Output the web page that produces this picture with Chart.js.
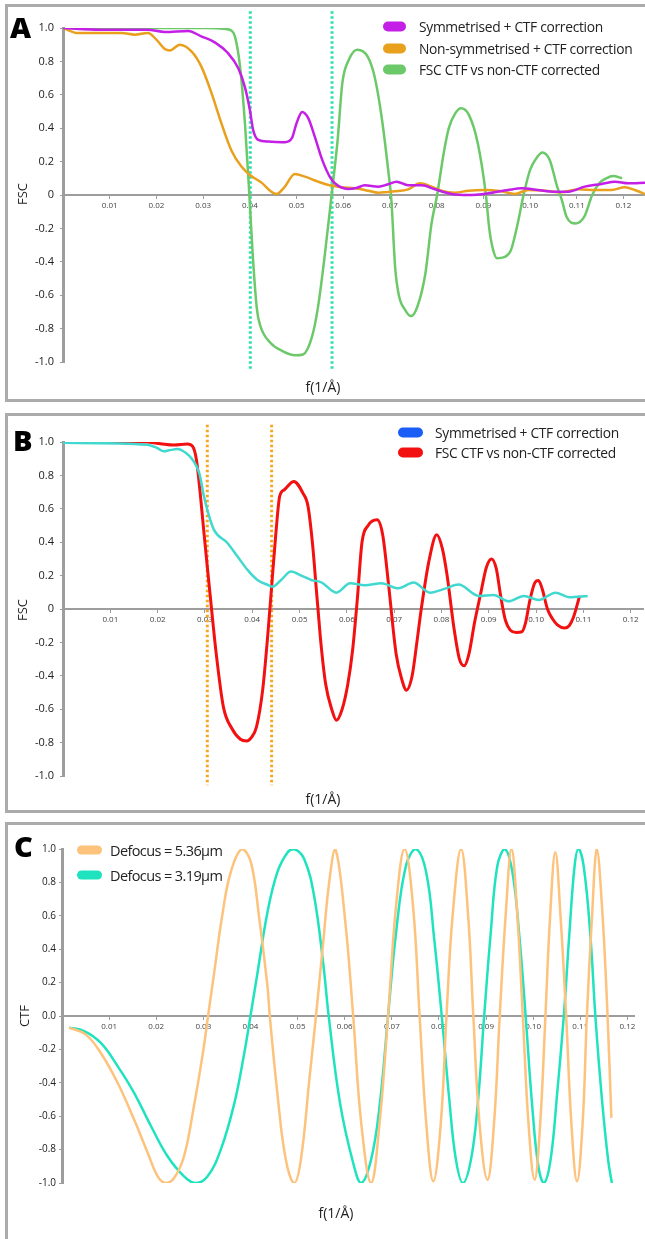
<!DOCTYPE html>
<html>
<head>
<meta charset="utf-8">
<title>FSC and CTF curves</title>
<script src="https://cdn.jsdelivr.net/npm/chart.js@4.4.1/dist/chart.umd.min.js"></script>
<style>
  body { margin: 0; width: 645px; height: 1239px; overflow: hidden; background: #fff; position: relative; font-family: "Open Sans", sans-serif; color: #222; }
  .panel { position: absolute; left: 5px; width: 700px; border: 3px solid #ababab; box-sizing: border-box; }
  canvas { position: absolute; left: 0; }
  .letter { position: absolute; font-weight: 800; font-size: 29px; line-height: 1; color: #000; }
  .ytitle { position: absolute; font-size: 13px; line-height: 1; transform: translate(-50%, -50%) rotate(-90deg); white-space: nowrap; }
  .xtitle { position: absolute; font-size: 14px; line-height: 1; transform: translate(-50%, -50%); white-space: nowrap; }
  .legend { position: absolute; left: 0; top: 0; }
  .legend .row { position: absolute; display: flex; align-items: center; white-space: nowrap; transform: translateY(-50%); }
  .legend .sw { display: inline-block; border-radius: 5px; }
</style>
</head>
<body>
<div class="panel" style="top:4px;height:398px"></div>
<div class="panel" style="top:413px;height:400px"></div>
<div class="panel" style="top:822px;height:430px"></div>

<canvas id="chartA" width="645" height="400" style="top:0px"></canvas>
<canvas id="chartB" width="645" height="400" style="top:410px"></canvas>
<canvas id="chartC" width="645" height="419" style="top:820px"></canvas>

<div class="letter" style="left:10px;top:12px">A</div>
<div class="letter" style="left:13px;top:425px">B</div>
<div class="letter" style="left:14px;top:831px">C</div>

<div class="ytitle" style="left:22px;top:194px">FSC</div>
<div class="ytitle" style="left:22px;top:610px">FSC</div>
<div class="ytitle" style="left:24px;top:1016px">CTF</div>

<div class="xtitle" style="left:323px;top:387px">f(1/Å)</div>
<div class="xtitle" style="left:323px;top:799px">f(1/Å)</div>
<div class="xtitle" style="left:336px;top:1213px">f(1/Å)</div>

<div id="legendA" class="legend"></div>
<div id="legendB" class="legend"></div>
<div id="legendC" class="legend"></div>

<script>
// ---- data: [f (1/Å), value] ----

// panel A
const aSymmetrised = [[0,1.0],[0.008,0.99],[0.018,0.99],[0.0218,0.976],[0.0268,0.982],[0.0296,0.95],[0.0325,0.914],[0.0353,0.85],[0.0375,0.76],[0.0389,0.65],[0.04,0.51],[0.0407,0.39],[0.0418,0.33],[0.0439,0.32],[0.0475,0.316],[0.049,0.34],[0.05,0.43],[0.0512,0.497],[0.0525,0.46],[0.0539,0.35],[0.0555,0.21],[0.0571,0.11],[0.0582,0.07],[0.061,0.036],[0.0628,0.042],[0.0646,0.058],[0.0675,0.05],[0.0696,0.064],[0.0714,0.08],[0.0739,0.058],[0.0768,0.058],[0.0796,0.034],[0.0832,0.006],[0.0868,0.0],[0.091,0.01],[0.0953,0.03],[0.0982,0.04],[0.1017,0.03],[0.1053,0.02],[0.1082,0.02],[0.1117,0.05],[0.1153,0.066],[0.1182,0.08],[0.121,0.07],[0.1246,0.074]];
const aNonSymmetrised = [[0,1.0],[0.0032,0.97],[0.0068,0.97],[0.0125,0.97],[0.0154,0.96],[0.0182,0.97],[0.02,0.93],[0.0218,0.874],[0.0229,0.866],[0.025,0.9],[0.0275,0.86],[0.0296,0.77],[0.0318,0.61],[0.0339,0.43],[0.036,0.27],[0.0382,0.17],[0.04,0.12],[0.0425,0.074],[0.0446,0.02],[0.0457,0.006],[0.0475,0.05],[0.0496,0.126],[0.0518,0.11],[0.0546,0.08],[0.0571,0.058],[0.0596,0.046],[0.0625,0.04],[0.0653,0.026],[0.0675,0.014],[0.071,0.022],[0.0739,0.034],[0.0764,0.07],[0.0789,0.05],[0.081,0.026],[0.0839,0.014],[0.0868,0.026],[0.0903,0.03],[0.0939,0.022],[0.0967,0.006],[0.0996,0.03],[0.1032,0.026],[0.1067,0.016],[0.1103,0.034],[0.1139,0.03],[0.1174,0.03],[0.1203,0.046],[0.1224,0.03],[0.1246,0.006]];
const aCtfVsNon = [[0,1.0],[0.02,1.0],[0.031,1.0],[0.0345,0.995],[0.036,0.985],[0.0368,0.95],[0.0379,0.77],[0.039,0.41],[0.0399,0.0],[0.0406,-0.35],[0.0415,-0.68],[0.0422,-0.78],[0.0444,-0.885],[0.047,-0.935],[0.0497,-0.96],[0.0514,-0.955],[0.0533,-0.85],[0.0546,-0.67],[0.056,-0.37],[0.0575,0.0],[0.0588,0.33],[0.0598,0.67],[0.0612,0.81],[0.063,0.87],[0.0652,0.83],[0.0667,0.71],[0.0682,0.47],[0.0697,0.13],[0.0703,-0.03],[0.0711,-0.43],[0.0719,-0.6],[0.0732,-0.686],[0.0745,-0.725],[0.0759,-0.666],[0.0776,-0.467],[0.0789,-0.17],[0.0801,0.0],[0.0815,0.25],[0.0826,0.4],[0.084,0.49],[0.0852,0.52],[0.0869,0.48],[0.0888,0.31],[0.0905,0.01],[0.0913,-0.21],[0.0921,-0.33],[0.0929,-0.378],[0.0946,-0.37],[0.0959,-0.33],[0.0972,-0.19],[0.0986,0.0],[0.1,0.15],[0.1016,0.23],[0.1026,0.255],[0.1042,0.21],[0.1058,0.05],[0.1068,-0.03],[0.1078,-0.13],[0.1098,-0.17],[0.1116,-0.13],[0.1133,0.0],[0.1148,0.07],[0.1163,0.1],[0.1178,0.114],[0.1197,0.1]];
const aMarkers = [0.0401, 0.0576];

// panel B
const bSymmetrised = [[0,0.995],[0.0178,0.984],[0.0199,0.964],[0.0213,0.944],[0.0224,0.95],[0.0242,0.958],[0.026,0.934],[0.0274,0.894],[0.0288,0.814],[0.0298,0.674],[0.0309,0.554],[0.0319,0.474],[0.0348,0.394],[0.0369,0.314],[0.039,0.234],[0.0411,0.174],[0.0433,0.144],[0.0443,0.134],[0.0461,0.174],[0.0482,0.224],[0.0504,0.2],[0.0525,0.174],[0.0546,0.16],[0.0578,0.098],[0.0607,0.154],[0.0638,0.142],[0.0673,0.154],[0.0709,0.124],[0.0741,0.158],[0.0776,0.098],[0.0808,0.122],[0.0836,0.146],[0.0879,0.078],[0.091,0.084],[0.0942,0.046],[0.0974,0.078],[0.1006,0.054],[0.1041,0.098],[0.107,0.07],[0.1109,0.078]];
const bCtfVsNon = [[0,1.0],[0.0175,1.0],[0.0206,0.99],[0.0235,0.982],[0.0263,0.988],[0.0274,0.974],[0.0282,0.894],[0.029,0.694],[0.0298,0.454],[0.0305,0.254],[0.0314,0.0],[0.0323,-0.246],[0.0339,-0.586],[0.0357,-0.716],[0.0375,-0.78],[0.0388,-0.79],[0.0398,-0.77],[0.0409,-0.706],[0.0422,-0.486],[0.0433,-0.15],[0.0441,0.134],[0.045,0.454],[0.0458,0.674],[0.0468,0.714],[0.0488,0.764],[0.0507,0.694],[0.0518,0.614],[0.0528,0.374],[0.0535,0.134],[0.0539,0.0],[0.0545,-0.2],[0.0555,-0.446],[0.0568,-0.6],[0.0578,-0.666],[0.059,-0.6],[0.0602,-0.45],[0.0612,-0.25],[0.0622,0.054],[0.0632,0.4],[0.0645,0.5],[0.0664,0.534],[0.0676,0.44],[0.0688,0.15],[0.0704,-0.266],[0.0716,-0.42],[0.0726,-0.486],[0.0738,-0.4],[0.0748,-0.2],[0.0757,-0.006],[0.0774,0.294],[0.079,0.444],[0.0802,0.36],[0.0812,0.2],[0.0826,-0.106],[0.0838,-0.3],[0.0848,-0.34],[0.0858,-0.27],[0.087,-0.08],[0.0883,0.094],[0.0895,0.25],[0.0906,0.3],[0.0916,0.24],[0.0925,0.08],[0.0935,-0.066],[0.0945,-0.125],[0.0958,-0.14],[0.097,-0.136],[0.0978,-0.08],[0.0987,0.054],[0.0998,0.16],[0.1005,0.17],[0.1013,0.12],[0.1024,0.0],[0.1035,-0.06],[0.1045,-0.095],[0.1060,-0.114],[0.107,-0.1],[0.1079,-0.05],[0.1092,0.078]];
const bMarkers = [0.0305, 0.0441];

// panel C
const cDefocus536 = [[0.0015,-0.07],[0.005,-0.11],[0.0082,-0.22],[0.0118,-0.4],[0.0153,-0.62],[0.0182,-0.82],[0.0203,-0.96],[0.022,-1.0],[0.0238,-0.97],[0.0259,-0.84],[0.028,-0.54],[0.0298,-0.24],[0.031,0],[0.0323,0.26],[0.034,0.6],[0.0358,0.86],[0.0382,1.0],[0.0401,0.92],[0.0418,0.6],[0.0436,0.18],[0.0441,0],[0.0457,-0.46],[0.0475,-0.86],[0.0493,-1.0],[0.0507,-0.86],[0.0525,-0.38],[0.0539,0],[0.0553,0.4],[0.0567,0.8],[0.058,1.0],[0.06,0.6],[0.0618,0],[0.0635,-0.64],[0.0656,-1.0],[0.0674,-0.64],[0.0692,0],[0.0709,0.66],[0.0727,1.0],[0.0745,0.66],[0.0759,0],[0.0773,-0.64],[0.0788,-0.99],[0.0804,-0.64],[0.0816,0],[0.0829,0.6],[0.0847,1.0],[0.0862,0.6],[0.0873,0],[0.0886,-0.64],[0.0903,-0.98],[0.0917,-0.64],[0.0929,0],[0.0942,0.62],[0.0954,1.0],[0.0966,0.62],[0.0978,0],[0.099,-0.64],[0.1003,-0.98],[0.1015,-0.64],[0.1026,0],[0.1036,0.6],[0.1047,0.98],[0.1058,0.6],[0.107,0],[0.1081,-0.64],[0.1093,-0.99],[0.1105,-0.64],[0.1114,0],[0.1125,0.6],[0.1135,1.0],[0.1146,0.66],[0.1157,0.06],[0.1166,-0.61]];
const cDefocus319 = [[0.0015,-0.07],[0.0047,-0.09],[0.0082,-0.16],[0.0118,-0.3],[0.0153,-0.46],[0.0189,-0.66],[0.0224,-0.84],[0.0259,-0.96],[0.0284,-1.0],[0.0309,-0.96],[0.0337,-0.8],[0.0366,-0.52],[0.0387,-0.22],[0.04,0],[0.0415,0.26],[0.0436,0.62],[0.0457,0.86],[0.0479,0.98],[0.0493,1.0],[0.0514,0.94],[0.0535,0.72],[0.0555,0.3],[0.0566,0],[0.059,-0.52],[0.0618,-0.88],[0.0635,-1.0],[0.0656,-0.86],[0.0674,-0.54],[0.0692,0],[0.0709,0.5],[0.073,0.9],[0.0751,1.0],[0.0773,0.86],[0.079,0.46],[0.0806,0],[0.0822,-0.5],[0.0836,-0.86],[0.0851,-1.0],[0.0868,-0.86],[0.0882,-0.54],[0.0896,0],[0.091,0.5],[0.0924,0.9],[0.094,1.0],[0.0956,0.86],[0.097,0.5],[0.0984,0],[0.0998,-0.54],[0.1011,-0.9],[0.1023,-1.0],[0.1037,-0.86],[0.1051,-0.46],[0.1065,0],[0.1077,0.5],[0.1088,0.9],[0.1096,1.0],[0.1107,0.9],[0.1121,0.5],[0.1132,0],[0.1146,-0.5],[0.1159,-0.86],[0.1167,-1.0]];

// axes and legends
const xTickValues = [0.01, 0.02, 0.03, 0.04, 0.05, 0.06, 0.07, 0.08, 0.09, 0.10, 0.11, 0.12];
const yTickValues = [-1.0, -0.8, -0.6, -0.4, -0.2, 0, 0.2, 0.4, 0.6, 0.8, 1.0];
const legendALabels = ["Symmetrised + CTF correction", "Non-symmetrised + CTF correction", "FSC CTF vs non-CTF corrected"];
const legendBLabels = ["Symmetrised + CTF correction", "FSC CTF vs non-CTF corrected"];
const legendCLabels = ["Defocus = 5.36µm", "Defocus = 3.19µm"];

const purple = "#c41fe6";
const amber = "#e9a01c";
const green = "#6cc96a";
const mint = "#2fdfae";
const red = "#f21010";
const cyan = "#40d8cf";
const blue = "#1a5ef5";
const dotOrange = "#f5a623";
const peach = "#fdc27c";
const teal = "#1fe3bf";
const axisGrey = "#9d9d9d";

function byId(id) {
  return document.getElementById(id);
}

function curve(points, color, width, smooth) {
  const ds = {
    data: points.map((p) => ({ x: p[0], y: p[1] })),
    borderColor: color,
    borderWidth: width,
    pointRadius: 0,
    fill: false,
    order: 1,
  };
  // sine-like CTF curves read better with plain bezier tension
  if (smooth) {
    ds.tension = 0.4;
  } else {
    ds.cubicInterpolationMode = "monotone";
  }
  return ds;
}

function marker(x, top, bottom, color) {
  return {
    data: [{ x, y: top }, { x, y: bottom }],
    borderColor: color,
    borderWidth: 3,
    borderDash: [2.5, 2.5],
    borderCapStyle: "butt",
    pointRadius: 0,
    clip: false,
    order: 5,
  };
}

function makeChart(id, cfg) {
  const canvas = byId(id);
  const h = canvas.height;
  return new Chart(canvas, {
    type: "line",
    data: { datasets: cfg.datasets },
    options: {
      responsive: false,
      animation: false,
      events: [],
      layout: {
        padding: { left: 0, right: cfg.padRight, top: cfg.areaTop, bottom: h - cfg.areaBottom },
      },
      plugins: { legend: { display: false }, tooltip: { enabled: false } },
      scales: {
        x: {
          type: "linear",
          min: 0,
          max: cfg.xMax,
          position: { y: 0 },
          afterFit: (s) => { s.height = 0; },
          afterBuildTicks: (s) => { s.ticks = xTickValues.map((v) => ({ value: v })); },
          ticks: {
            callback: (v) => Number(v).toFixed(2),
            font: { family: "Open Sans", size: 8 },
            color: "#444",
            maxRotation: 0,
            autoSkip: false,
            padding: 3,
          },
          grid: { drawOnChartArea: false, tickLength: 3, color: axisGrey },
          border: { color: axisGrey, width: 2 },
        },
        y: {
          type: "linear",
          min: -1,
          max: 1,
          afterFit: (s) => { s.width = cfg.areaLeft; },
          afterBuildTicks: (s) => { s.ticks = yTickValues.map((v) => ({ value: v })); },
          ticks: {
            callback: cfg.yFormat,
            font: { family: "Open Sans", size: cfg.yFont },
            color: "#222",
            padding: cfg.yPad,
          },
          grid: { drawOnChartArea: false, tickLength: 3, color: axisGrey },
          border: { color: axisGrey, width: 3 },
        },
      },
    },
  });
}

function buildLegend(id, labels, colors, spec) {
  const box = byId(id);
  labels.forEach((label, i) => {
    const row = document.createElement("div");
    row.className = "row";
    row.style.left = spec.left + "px";
    row.style.top = spec.rows[i] + "px";
    row.style.fontSize = spec.font + "px";
    row.style.letterSpacing = spec.spacing + "px";
    const sw = document.createElement("span");
    sw.className = "sw";
    sw.style.width = spec.swW + "px";
    sw.style.height = spec.swH + "px";
    sw.style.background = colors[i];
    sw.style.marginRight = spec.gap + "px";
    const txt = document.createElement("span");
    txt.textContent = label;
    row.appendChild(sw);
    row.appendChild(txt);
    box.appendChild(row);
  });
}

const fscFormat = (v) => (Math.abs(v) < 1e-9 ? "0" : Number(v).toFixed(1));
const ctfFormat = (v) => (Math.abs(v) < 1e-9 ? "0.0" : Number(v).toFixed(1));

makeChart("chartA", {
  areaLeft: 63, areaTop: 28, areaBottom: 362, padRight: 0, xMax: 0.1246,
  yFormat: fscFormat, yFont: 11, yPad: 6,
  datasets: [
    curve(aSymmetrised, purple, 2.5),
    curve(aNonSymmetrised, amber, 2.5),
    curve(aCtfVsNon, green, 2.5),
    ...aMarkers.map((x) => marker(x, 1.1, -1.045, mint)),
  ],
});

makeChart("chartB", {
  areaLeft: 63, areaTop: 32, areaBottom: 366, padRight: 2, xMax: 0.1226,
  yFormat: fscFormat, yFont: 11, yPad: 6,
  datasets: [
    curve(bSymmetrised, cyan, 2.5),
    curve(bCtfVsNon, red, 3),
    ...bMarkers.map((x) => marker(x, 1.104, -1.056, dotOrange)),
  ],
});

makeChart("chartC", {
  areaLeft: 62, areaTop: 29, areaBottom: 363, padRight: 11, xMax: 0.1214,
  yFormat: ctfFormat, yFont: 10, yPad: 3,
  datasets: [
    curve(cDefocus536, peach, 2.5, true),
    curve(cDefocus319, teal, 2.5, true),
  ],
});

buildLegend("legendA", legendALabels, [purple, amber, green],
  { left: 383, rows: [26, 48, 69], font: 13.8, spacing: -0.3, swW: 23, swH: 10, gap: 13 });
buildLegend("legendB", legendBLabels, [blue, red],
  { left: 398, rows: [432, 452], font: 13.8, spacing: -0.3, swW: 25, swH: 10, gap: 12 });
buildLegend("legendC", legendCLabels, [peach, teal],
  { left: 77, rows: [850, 875], font: 14.5, spacing: -0.6, swW: 25, swH: 9, gap: 8 });
</script>
</body>
</html>
